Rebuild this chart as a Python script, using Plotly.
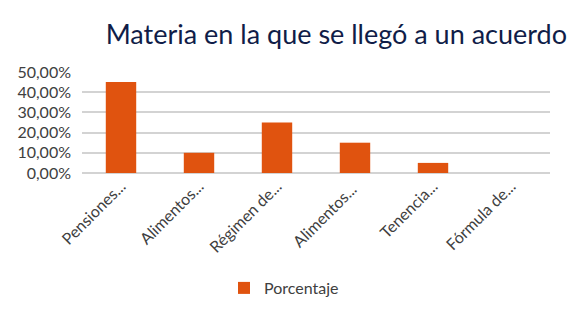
import plotly.graph_objects as go

categories = ["Pensiones...", "Alimentos...", "Régimen de...", "Alimentos... ", "Tenencia...", "Fórmula de..."]
values = [0.45, 0.10, 0.25, 0.15, 0.05, 0.0]
series_name = "Porcentaje"
title_text = "Materia en la que se llegó a un acuerdo"

OFF = 8  # default page body margin
W, H = 577 - OFF, 314 - OFF
L = 82 - OFF
R = W - (550 - OFF)
T = 72 - OFF
B = H - (173 - OFF)
pw = W - L - R
ph = H - T - B


def px_x(win_x):
    return (win_x - OFF - L) / pw


def px_y(win_y):
    return (T + ph - (win_y - OFF)) / ph


fig = go.Figure()
fig.add_trace(go.Bar(
    x=categories, y=values, name=series_name,
    marker=dict(color="#E0530F", line=dict(width=0)),
    width=0.39, showlegend=True,
))

fig.update_layout(
    width=W, height=H,
    margin=dict(l=L, r=R, t=T, b=B, autoexpand=False),
    paper_bgcolor="white", plot_bgcolor="white",
    separators=",.",
    font=dict(family="Lato, Open Sans, sans-serif", color="#404040", size=15),
    title=dict(text=title_text, x=(567 - OFF) / W, xref="container", xanchor="right",
               y=1 - (35 - OFF) / H, yref="container", yanchor="middle",
               font=dict(size=27, color="#101D48", family="Lato, Open Sans, sans-serif")),
    xaxis=dict(tickangle=-45, showgrid=False, showline=False, ticks="",
               tickfont=dict(size=16, color="#404040")),
    yaxis=dict(range=[0, 0.5], dtick=0.1, tickformat=".2%", showgrid=True,
               gridcolor="#D3D3D3", gridwidth=1.5, zeroline=True, zerolinecolor="#D3D3D3",
               zerolinewidth=1.5, ticks="", ticklabelstandoff=10,
               tickfont=dict(size=16, color="#404040")),
    legend=dict(orientation="h", x=px_x(284), xanchor="center",
                y=px_y(288), yanchor="middle", yref="paper",
                font=dict(size=16, color="#404040")),
    shapes=[dict(type="line", xref="paper", yref="paper",
                 x0=px_x(573), x1=px_x(573),
                 y0=px_y(15), y1=px_y(300),
                 line=dict(color="#D8D8D8", width=1.5))],
)

fig.write_html("out.html")
